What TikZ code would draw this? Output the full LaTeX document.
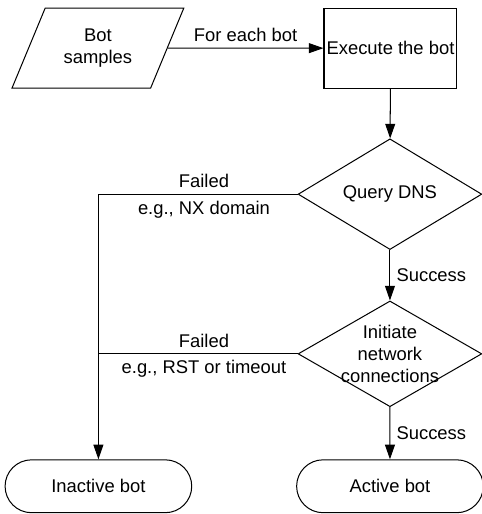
\documentclass[tikz,border=0pt]{standalone}
\usepackage{fontspec}
\setmainfont{Liberation Sans}
\usepackage{tikz}
\usetikzlibrary{arrows.meta}
\usetikzlibrary{calc}
\usetikzlibrary{shapes}
\tikzstyle{io} = [draw, trapezium, trapezium left angle=63.4, trapezium right angle=116.6, trapezium stretches, minimum width=3.30cm, minimum height=1.53cm, align=center]
\tikzstyle{process} = [draw, rectangle, minimum width=2.54cm, minimum height=1.53cm, inner sep=1pt]
\tikzstyle{decision} = [draw, diamond, minimum width=3.51cm, minimum height=2.02cm, inner sep=0pt]
\tikzstyle{terminal} = [draw, rounded rectangle, minimum width=3.80cm, minimum height=1.01cm]
\tikzstyle{flow} = [-{Triangle[length=0.28cm, width=0.19cm]}]

\begin{document}
\begin{tikzpicture}[y=-1cm, line width=0.55pt]
	\useasboundingbox (0, 0) rectangle (9.19, 9.82);

	\node[io] (samples) at (1.87, 0.92) {Bot\\samples} ;
	\node[process] (exec) at (7.46, 0.92) {Execute the bot} ;
	\node[decision] (dns) at (7.45, 3.71) {Query DNS} ;
	\node[decision, label={[align=center]center:Initiate\\network\\connections}] (init) at (7.45, 6.76) {} ;
	\node[terminal] (inactive) at (1.88, 9.29) {Inactive bot} ;
	\node[terminal] (active) at (7.45, 9.29) {Active bot} ;
	\coordinate (join) at (inactive.north |- init.west) ;

	\draw[flow] (samples) -- node[above] {For each bot} (exec) ;
	\draw[flow] (exec) -- (dns) ;
	\draw[flow] (dns) -- node[right] {Success} (init) ;
	\draw[flow] (init) -- node[right] {Success} (active) ;

	\draw[flow] (dns.west) -| node[above, pos=0.235] {Failed} node[below, pos=0.235] {e.g., NX domain} (inactive.north) ;
	\draw (init.west) -- node[above, pos=0.47] {Failed} node[below, pos=0.47] {e.g., RST or timeout} (join) ;
\end{tikzpicture}
\end{document}
